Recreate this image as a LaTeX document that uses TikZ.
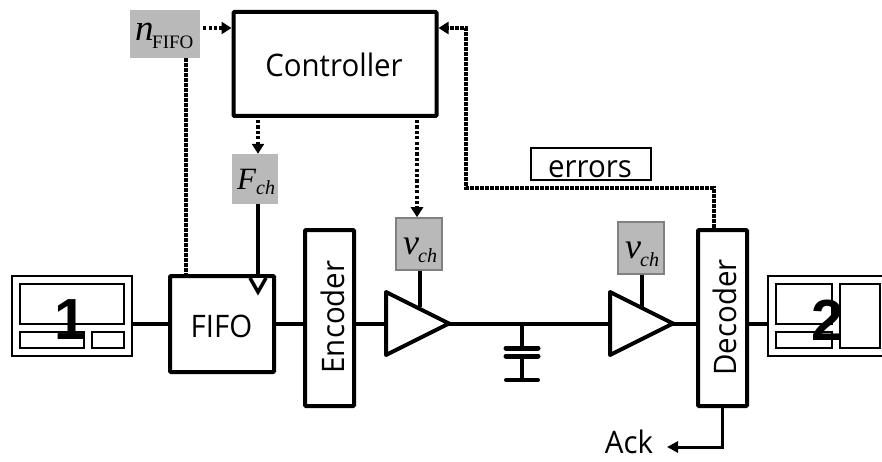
\documentclass[tikz,border=0pt]{standalone}
\usepackage{fontspec}
\setmainfont[FakeStretch=0.95]{Open Sans}
\newfontfamily\serifit{Liberation Serif}
\newfontfamily\boldface{Liberation Sans}
\usetikzlibrary{arrows.meta}
\definecolor{greybox}{HTML}{B9B9B9}
\definecolor{greyedge}{HTML}{808080}
\tikzset{
  x=1pt,y=-1pt,
  block/.style={draw=black,line width=4pt,rounded corners=1pt,fill=white,inner sep=0pt},
  thinbox/.style={draw=black,line width=2pt,inner sep=0pt,fill=none},
  param/.style={fill=greybox,inner sep=0pt},
  paramb/.style={param,draw=greyedge,line width=1.5pt},
  lbl/.style={inner sep=0pt,anchor=base,font=\fontsize{31}{31}\selectfont},
  symb/.style={inner sep=0pt,anchor=base west,font=\serifit\itshape\fontsize{#1}{#1}\selectfont},
  wire/.style={line width=4pt,draw=black},
  ctrl/.style={line width=4pt,draw=black,dash pattern=on 3.6pt off 1.4pt},
  ctrlthin/.style={line width=3.4pt,draw=black,dash pattern=on 3.2pt off 2.2pt},
  head/.style={-{Triangle[length=10pt,width=12pt,sep=0pt]}},
  amp/.style={line width=4pt,draw=black,fill=white,line join=round},
  plate/.style={line width=5pt,line cap=round,draw=black},
  big/.style={font=\boldface\bfseries\fontsize{58}{58}\selectfont,inner sep=0pt},
}
\begin{document}
\begin{tikzpicture}
\clip (0,0) rectangle (882,462);
% hosts
\node[thinbox,minimum width=120pt,minimum height=80pt] (hosta) at (72,316) {};
\node[thinbox,minimum width=104pt,minimum height=40pt] (hostaT) at (72,304) {};
\node[thinbox,minimum width=64pt,minimum height=16pt] (hostaL) at (52,340) {};
\node[thinbox,minimum width=32pt,minimum height=16pt] (hostaR) at (108,340) {};
\node[big] (one) at (71,320) {1};
\node[thinbox,minimum width=120pt,minimum height=80pt] (hostb) at (828,316) {};
\node[thinbox,minimum width=56pt,minimum height=40pt] (hostbT) at (804,304) {};
\node[thinbox,minimum width=56pt,minimum height=16pt] (hostbL) at (804,340) {};
\node[thinbox,minimum width=40pt,minimum height=64pt] (hostbR) at (860,316) {};
\node[big] (two) at (828,320) {2};
% blocks
\node[block,minimum width=104pt,minimum height=96pt] (fifo) at (222,324) {};
\node[block,minimum width=49pt,minimum height=176pt] (enc) at (329.5,318) {};
\node[block,minimum width=49pt,minimum height=176pt] (dec) at (722.5,318) {};
\node[block,minimum width=203pt,minimum height=104pt] (ctl) at (335,64) {};
\node[lbl] (fifot) at (221.5,337) {FIFO};
\node[lbl,rotate=90] (enct) at (344,317) {Encoder};
\node[lbl,rotate=90] (dect) at (736,317.5) {Decoder};
\node[lbl] (ctlt) at (334,77) {Controller};
% parameter boxes
\node[param,minimum width=70pt,minimum height=48pt] (nf) at (165,34) {};
\node[param,minimum width=46pt,minimum height=50pt] (fch) at (255,179) {};
\node[paramb,minimum width=46pt,minimum height=52pt] (va) at (419,244) {};
\node[paramb,minimum width=46pt,minimum height=52pt] (vb) at (641,248) {};
\node[symb=37] (nft) at (135,41) {n};
\node[symb=19,font=\serifit\fontsize{19}{19}\selectfont] (nfs) at (152,49) {FIFO};
\node[symb=31] (ft) at (237,190) {F};
\node[symb=20] (fs) at (256,195) {ch};
\node[symb=36] (vat) at (403,254) {v};
\node[symb=20] (vas) at (418,262) {ch};
\node[symb=36] (vbt) at (625,258) {v};
\node[symb=20] (vbs) at (640,266) {ch};
\node[thinbox,minimum width=120pt,minimum height=32pt] (err) at (590.5,164) {};
\node[lbl] (errt) at (590,178) {errors};
\node[lbl] (ack) at (629,453) {Ack};
% amplifiers
\coordinate (a1) at (386,292); \coordinate (a2) at (386,355); \coordinate (a3) at (449,323.5);
\coordinate (b1) at (610,292); \coordinate (b2) at (610,355); \coordinate (b3) at (673,323.5);
% wires
\draw[wire] (hosta.east |- 0,324) -- (fifo.west |- 0,324);
\draw[wire] (fifo.east |- 0,323.5) -- (enc.west |- 0,323.5);
\draw[wire] (enc.east |- 0,323.5) -- (a1 |- 0,323.5);
\draw[wire] (a3) -- (b1 |- a3);
\draw[wire] (b3) -- (dec.west |- b3);
\draw[wire] (dec.east |- b3) -- (hostb.west |- b3);
\draw[amp] (a1) -- (a2) -- (a3) -- cycle;
\draw[amp] (b1) -- (b2) -- (b3) -- cycle;
\coordinate (astem) at (420,307);
\coordinate (bstem) at (642,307);
\draw[wire] (va.south -| astem) -- (astem);
\draw[wire] (vb.south -| bstem) -- (bstem);
% capacitor
\coordinate (capt) at (522,323.5);
\coordinate (capa) at (522,348);
\coordinate (capb) at (522,356);
\coordinate (capc) at (522,380);
\draw[wire] (capt) -- (capa);
\draw[wire] (capb) -- (capc);
\draw[plate] (506,348) -- (538,348);
\draw[plate] (506,356) -- (538,356);
\draw[line width=4pt,line cap=round] (506,380) -- (538,380);
% fifo clock
\coordinate (clk) at (258,276);
\draw[wire] (fch.south -| clk) -- (clk);
\draw[line width=3.5pt,draw=black,fill=white,line join=miter] (250,278) -- (258,292) -- (266,278);
% control paths
\draw[ctrl] (nf.south -| 186,0) -- (fifo.north -| 186,0);
\draw[ctrlthin,head] (nf.east |- 0,28) ++(3,0) -- (ctl.west |- 0,28);
\draw[ctrlthin,head] (ctl.south -| 258,0) ++(0,2) -- (fch.north -| 258,0);
\draw[ctrlthin,head] (ctl.south -| 417,0) ++(0,2) -- (va.north -| 417,0);
\draw[ctrl,head] (dec.north -| 714,0) -- (714,188) -- (466,188) -- (466,28) -- (ctl.east |- 0,28);
% ack
\coordinate (ackc) at (722,447);
\draw[wire,line width=3pt,-{Triangle[length=11pt,width=11pt,sep=0pt]}] (dec.south -| ackc) -- (ackc) -- (667,447);
\end{tikzpicture}
\end{document}
